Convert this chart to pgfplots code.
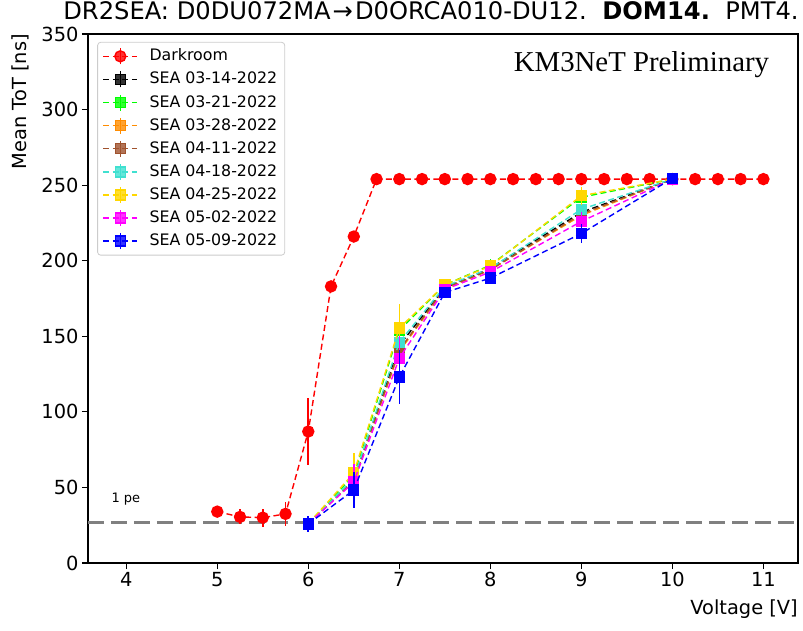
\documentclass[border=0pt]{standalone}
\usepackage{fontspec}
\setmainfont{DejaVu Sans}
\newfontfamily\timesfont{Liberation Serif}
\usepackage{pgfplots}
\pgfplotsset{compat=1.18}
\definecolor{cBlack}{HTML}{000000}
\definecolor{cLime}{HTML}{00FF00}
\definecolor{cOrange}{HTML}{FF8C00}
\definecolor{cSienna}{HTML}{A0522D}
\definecolor{cTurq}{HTML}{40E0D0}
\definecolor{cGold}{HTML}{FFD700}
\definecolor{cMag}{HTML}{FF00FF}
\definecolor{cBlue}{HTML}{0000FF}
\definecolor{cRed}{HTML}{FF0000}
\definecolor{lgray}{HTML}{CCCCCC}

\pgfplotstableread{
x y e
5 34 0.3
5.25 30.5 5
5.5 30 6
5.75 32.5 8
6 87 22
6.25 183 2
6.5 216 3
6.75 254 0
7 254 0
7.25 254 0
7.5 254 0
7.75 254 0
8 254 0
8.25 254 0
8.5 254 0
8.75 254 0
9 254 0
9.25 254 0
9.5 254 0
9.75 254 0
10 254 0
10.25 254 0
10.5 254 0
10.75 254 0
11 254 0
}\darkroom

\pgfplotstableread{
x y e
6 26 5
6.5 55 12
7 144 15
7.5 182 3
8 195 4
9 232 6
10 254 1
}\seaA
\pgfplotstableread{
x y e
6 26 5
6.5 58 12
7 154 16
7.5 184 3
8 197 4
9 242 6
10 254 1
}\seaB
\pgfplotstableread{
x y e
6 26 5
6.5 54 12
7 140 15
7.5 181 3
8 194 4
9 230 6
10 254 1
}\seaC
\pgfplotstableread{
x y e
6 26 5
6.5 55 12
7 141 15
7.5 182 3
8 194 4
9 231 6
10 254 1
}\seaD
\pgfplotstableread{
x y e
6 26 5
6.5 56 12
7 146 15
7.5 183 3
8 195 4
9 234 6
10 254 1
}\seaE
\pgfplotstableread{
x y e
6 26 5
6.5 59.5 13
7 155.5 16
7.5 184 3
8 196.5 4
9 243 6
10 254 1
}\seaF
\pgfplotstableread{
x y e
6 26 5
6.5 53.5 12
7 135.5 15
7.5 181 3
8 192.5 4
9 226 6
10 254 1
}\seaG
\pgfplotstableread{
x y e
6 25.8 5
6.5 48.3 12
7 123 18
7.5 179 3
8 188.5 4
9 218 6
10 254.5 1
}\seaH

\pgfplotsset{
  ser/.style={color=#1, line width=1.4pt, dash pattern=on 6pt off 3.5pt,
    mark options={solid},
    error bars/y dir=both, error bars/y explicit, error bars/error mark=none,
    error bars/error bar style={solid, line width=1.6pt}},
  sq/.style={ser=#1, mark=square*, mark size=5pt},
}

\begin{document}
\begin{tikzpicture}
\useasboundingbox (-88pt,-67pt) rectangle (715pt,563pt);
\begin{axis}[
  scale only axis, width=710pt, height=529pt,
  clip mode=individual,
  xmin=3.58, xmax=11.38, ymin=0, ymax=350,
  xtick={4,5,6,7,8,9,10,11},
  ytick={0,50,100,150,200,250,300,350},
  tick align=outside, xtick pos=bottom, ytick pos=left,
  major tick length=6pt,
  axis line style={line width=1.1pt},
  tick style={line width=1.1pt, black},
  tick label style={font=\fontsize{19.4}{22}\selectfont},
  /pgf/number format/assume math mode=true,
  title={DR2SEA: D0DU072MA\kern2pt→\kern2pt D0ORCA010-DU12.\ \ \textbf{DOM14.}\ \ PMT4.},
  title style={font=\fontsize{24.2}{27}\selectfont, at={(0.5,1)}, anchor=base, yshift=9pt, xshift=-12pt},
  legend style={at={(0.013,0.985)}, anchor=north west,
    font=\fontsize{15.8}{18}\selectfont, draw=lgray, line width=0.8pt,
    rounded corners=3pt, fill=white, fill opacity=0.8, text opacity=1, draw opacity=1,
    row sep=3.1pt, column sep=9pt, inner xsep=5pt, inner ysep=4pt,
    nodes={inner sep=2.5pt, text height=12pt, text depth=3pt},
    cells={anchor=west}},
  legend image code/.code={
    \draw[#1, solid, line width=1.6pt] (17pt,-8pt) -- (17pt,8pt);
    \draw[mark repeat=2, mark phase=2, #1, line width=1.4pt] plot coordinates {(0pt,0pt)(17pt,0pt)(34pt,0pt)};
  },
]
\addplot[forget plot, color=gray, line width=3pt, dash pattern=on 16pt off 7pt] coordinates {(3.58,26.5) (11.38,26.5)};
\addplot[ser=cRed, mark=*, mark size=5.5pt] table[x=x, y=y, y error=e] {\darkroom};
\addlegendentry{Darkroom}
\addplot[sq=cBlack] table[x=x, y=y, y error=e] {\seaA};
\addlegendentry{SEA 03-14-2022}
\addplot[sq=cLime] table[x=x, y=y, y error=e] {\seaB};
\addlegendentry{SEA 03-21-2022}
\addplot[sq=cOrange] table[x=x, y=y, y error=e] {\seaC};
\addlegendentry{SEA 03-28-2022}
\addplot[sq=cSienna] table[x=x, y=y, y error=e] {\seaD};
\addlegendentry{SEA 04-11-2022}
\addplot[sq=cTurq] table[x=x, y=y, y error=e] {\seaE};
\addlegendentry{SEA 04-18-2022}
\addplot[sq=cGold] table[x=x, y=y, y error=e] {\seaF};
\addlegendentry{SEA 04-25-2022}
\addplot[sq=cMag] table[x=x, y=y, y error=e] {\seaG};
\addlegendentry{SEA 05-02-2022}
\addplot[sq=cBlue] table[x=x, y=y, y error=e] {\seaH};
\addlegendentry{SEA 05-09-2022}
\node[anchor=west, font=\fontsize{13}{15}\selectfont] at (axis cs:3.8,42.5) {1 pe};
\node[anchor=west, font=\timesfont\fontsize{28.8}{32}\selectfont] at (axis cs:8.22,329.5) {KM3NeT Preliminary};
\node[rotate=90, anchor=south east, font=\fontsize{19.4}{22}\selectfont, inner sep=0pt] at (rel axis cs:-0.083,1) {Mean ToT [ns]};
\node[anchor=north east, font=\fontsize{19.4}{22}\selectfont, inner sep=0pt] at (rel axis cs:1,-0.07) {Voltage [V]};
\end{axis}
\end{tikzpicture}
\end{document}
